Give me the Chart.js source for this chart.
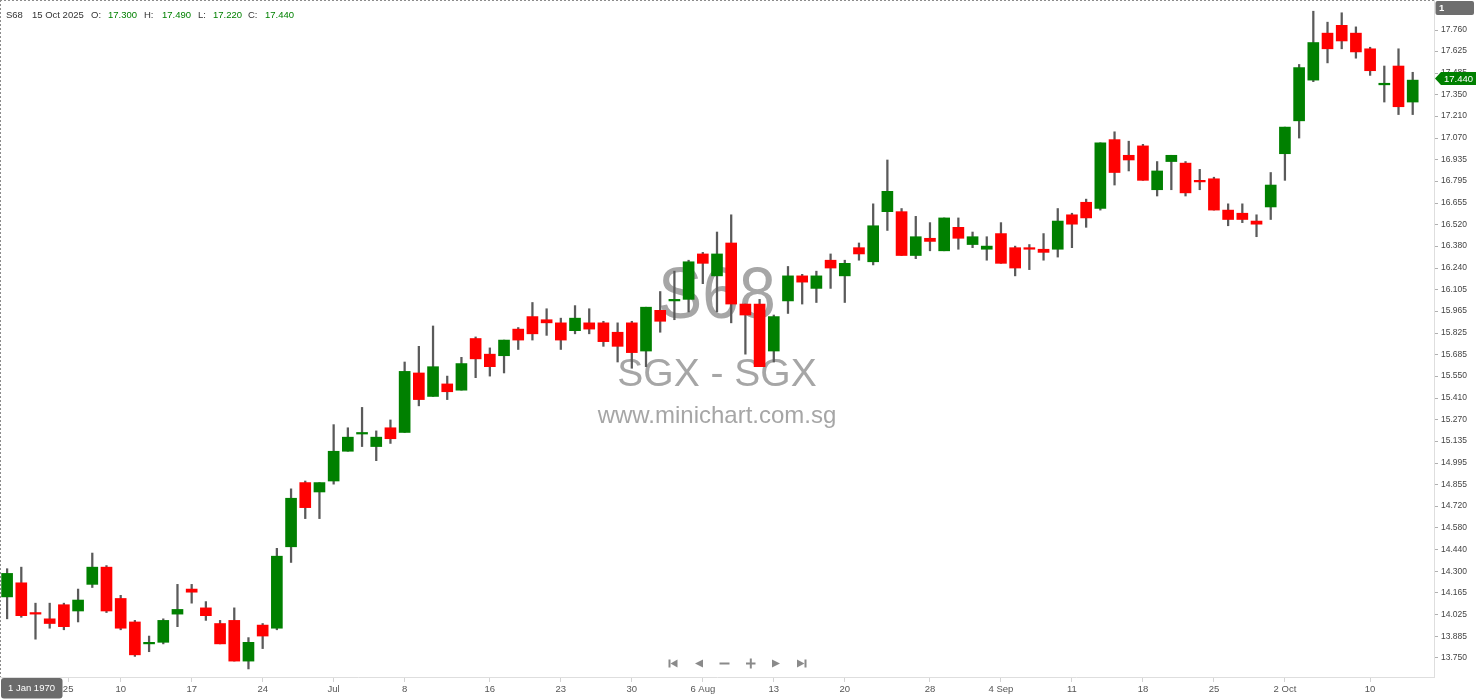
<!DOCTYPE html>
<html>
<head>
<meta charset="utf-8">
<title>S68 - SGX</title>
<script src="https://cdn.jsdelivr.net/npm/chart.js@4.4.1/dist/chart.umd.min.js"></script>
<style>
  html, body { margin: 0; padding: 0; background: #fff; }
  #wrap { width: 1480px; height: 699px; }
</style>
</head>
<body>
<div id="wrap"><canvas id="chart" width="1480" height="699"></canvas></div>
<script>
const symbol = 'S68';
const exchange = 'SGX - SGX';
const site = 'www.minichart.com.sg';

// trading days, 29 May -> 15 Oct 2025
const dates = [
  '29 May', '30 May', '2 Jun', '3 Jun', '4 Jun', '5 Jun', '6 Jun', '9 Jun', '10 Jun', '11 Jun',
  '12 Jun', '13 Jun', '16 Jun', '17 Jun', '18 Jun', '19 Jun', '20 Jun', '23 Jun', '24 Jun', '25 Jun',
  '26 Jun', '27 Jun', '30 Jun', '1 Jul', '2 Jul', '3 Jul', '4 Jul', '7 Jul', '8 Jul', '9 Jul',
  '10 Jul', '11 Jul', '14 Jul', '15 Jul', '16 Jul', '17 Jul', '18 Jul', '21 Jul', '22 Jul', '23 Jul',
  '24 Jul', '25 Jul', '28 Jul', '29 Jul', '30 Jul', '31 Jul', '1 Aug', '4 Aug', '5 Aug', '6 Aug',
  '7 Aug', '8 Aug', '11 Aug', '12 Aug', '13 Aug', '14 Aug', '15 Aug', '18 Aug', '19 Aug', '20 Aug',
  '21 Aug', '22 Aug', '25 Aug', '26 Aug', '27 Aug', '28 Aug', '29 Aug', '1 Sep', '2 Sep', '3 Sep',
  '4 Sep', '5 Sep', '8 Sep', '9 Sep', '10 Sep', '11 Sep', '12 Sep', '15 Sep', '16 Sep', '17 Sep',
  '18 Sep', '19 Sep', '22 Sep', '23 Sep', '24 Sep', '25 Sep', '26 Sep', '29 Sep', '30 Sep', '1 Oct',
  '2 Oct', '3 Oct', '6 Oct', '7 Oct', '8 Oct', '9 Oct', '10 Oct', '13 Oct', '14 Oct', '15 Oct'
];

const opens = [
  14.14, 14.23, 14.04, 14.00, 14.09, 14.05, 14.22, 14.33, 14.13, 13.98,
  13.84, 13.85, 14.03, 14.19, 14.07, 13.97, 13.99, 13.73, 13.96, 13.94,
  14.46, 14.87, 14.81, 14.88, 15.07, 15.18, 15.10, 15.22, 15.19, 15.57,
  15.42, 15.50, 15.46, 15.79, 15.69, 15.68, 15.85, 15.93, 15.91, 15.89,
  15.84, 15.89, 15.89, 15.83, 15.89, 15.71, 15.97, 16.03, 16.04, 16.33,
  16.19, 16.40, 16.01, 16.01, 15.71, 16.03, 16.19, 16.11, 16.29, 16.19,
  16.37, 16.28, 16.60, 16.60, 16.32, 16.43, 16.35, 16.50, 16.39, 16.36,
  16.46, 16.37, 16.37, 16.36, 16.36, 16.58, 16.66, 16.62, 17.06, 16.96,
  17.02, 16.74, 16.92, 16.91, 16.80, 16.81, 16.61, 16.59, 16.54, 16.63,
  16.97, 17.18, 17.44, 17.74, 17.79, 17.74, 17.64, 17.41, 17.53, 17.30
];
const highs = [
  14.32, 14.33, 14.10, 14.10, 14.10, 14.19, 14.42, 14.34, 14.15, 13.99,
  13.89, 14.00, 14.22, 14.22, 14.11, 13.99, 14.07, 13.88, 13.97, 14.45,
  14.83, 14.88, 14.87, 15.24, 15.22, 15.35, 15.20, 15.27, 15.64, 15.74,
  15.87, 15.55, 15.67, 15.80, 15.73, 15.78, 15.86, 16.02, 15.98, 15.92,
  16.00, 15.98, 15.90, 15.89, 15.90, 15.99, 16.09, 16.22, 16.29, 16.34,
  16.47, 16.58, 16.01, 16.04, 15.94, 16.25, 16.20, 16.22, 16.33, 16.29,
  16.40, 16.65, 16.93, 16.62, 16.57, 16.53, 16.56, 16.56, 16.47, 16.44,
  16.53, 16.38, 16.39, 16.46, 16.62, 16.59, 16.68, 17.04, 17.11, 17.05,
  17.03, 16.92, 16.96, 16.92, 16.87, 16.82, 16.65, 16.65, 16.58, 16.85,
  17.14, 17.54, 17.88, 17.81, 17.87, 17.78, 17.65, 17.53, 17.64, 17.49
];
const lows = [
  14.00, 14.01, 13.87, 13.94, 13.93, 13.98, 14.20, 14.04, 13.93, 13.76,
  13.79, 13.84, 13.95, 14.10, 13.99, 13.84, 13.73, 13.68, 13.81, 13.93,
  14.36, 14.64, 14.64, 14.86, 15.07, 15.10, 15.01, 15.12, 15.19, 15.36,
  15.42, 15.40, 15.46, 15.54, 15.55, 15.57, 15.72, 15.78, 15.81, 15.72,
  15.82, 15.82, 15.74, 15.64, 15.60, 15.61, 15.83, 15.91, 15.96, 16.14,
  15.96, 15.89, 15.69, 15.61, 15.64, 15.95, 16.01, 16.02, 16.11, 16.02,
  16.29, 16.26, 16.48, 16.32, 16.30, 16.35, 16.35, 16.36, 16.37, 16.29,
  16.27, 16.19, 16.23, 16.29, 16.31, 16.37, 16.50, 16.61, 16.77, 16.86,
  16.80, 16.70, 16.74, 16.70, 16.74, 16.61, 16.51, 16.53, 16.44, 16.55,
  16.80, 17.07, 17.43, 17.55, 17.64, 17.58, 17.47, 17.30, 17.22, 17.22
];
const closes = [
  14.29, 14.02, 14.03, 13.97, 13.95, 14.12, 14.33, 14.05, 13.94, 13.77,
  13.85, 13.99, 14.06, 14.17, 14.02, 13.84, 13.73, 13.85, 13.89, 14.40,
  14.77, 14.71, 14.87, 15.07, 15.16, 15.19, 15.16, 15.15, 15.58, 15.40,
  15.61, 15.45, 15.63, 15.66, 15.61, 15.78, 15.78, 15.82, 15.89, 15.78,
  15.92, 15.85, 15.77, 15.74, 15.70, 15.99, 15.90, 16.04, 16.28, 16.27,
  16.33, 16.01, 15.94, 15.61, 15.93, 16.19, 16.15, 16.19, 16.24, 16.27,
  16.33, 16.51, 16.73, 16.32, 16.44, 16.41, 16.56, 16.43, 16.44, 16.38,
  16.27, 16.24, 16.36, 16.34, 16.54, 16.52, 16.56, 17.04, 16.85, 16.93,
  16.80, 16.86, 16.96, 16.72, 16.79, 16.61, 16.55, 16.55, 16.52, 16.77,
  17.14, 17.52, 17.68, 17.64, 17.69, 17.62, 17.50, 17.42, 17.27, 17.44
];

// x axis tick labels (position on the bar index axis)
const xTickIndex = [4.3, 8, 13, 18, 23, 28, 34, 39, 44, 49, 54, 59, 65, 70, 75, 80, 85, 90, 96];
const xTickText = ['25', '10', '17', '24', 'Jul', '8', '16', '23', '30', '6 Aug', '13', '20', '28', '4 Sep', '11', '18', '25', '2 Oct', '10'];

// price axis tick labels
const yTicks = [
  17.760, 17.625, 17.485, 17.350, 17.210, 17.070, 16.935, 16.795, 16.655, 16.520,
  16.380, 16.240, 16.105, 15.965, 15.825, 15.685, 15.550, 15.410, 15.270, 15.135,
  14.995, 14.855, 14.720, 14.580, 14.440, 14.300, 14.165, 14.025, 13.885, 13.750
];

const FONT = '"Liberation Sans", Arial, sans-serif';
const UP = '#008000';
const DOWN = '#ff0000';
const WICK = '#5a5a5a';

const candleColors = opens.map((o, i) => (closes[i] >= o ? UP : DOWN));
const wickData = dates.map((d, i) => ({ x: i, y: [lows[i], highs[i]] }));
const bodyData = dates.map((d, i) => ({ x: i, y: [opens[i], closes[i]] }));

function roundRect(ctx, x, y, w, h, r) {
  ctx.beginPath();
  ctx.moveTo(x + r, y);
  ctx.lineTo(x + w - r, y);
  ctx.quadraticCurveTo(x + w, y, x + w, y + r);
  ctx.lineTo(x + w, y + h - r);
  ctx.quadraticCurveTo(x + w, y + h, x + w - r, y + h);
  ctx.lineTo(x + r, y + h);
  ctx.quadraticCurveTo(x, y + h, x, y + h - r);
  ctx.lineTo(x, y + r);
  ctx.quadraticCurveTo(x, y, x + r, y);
  ctx.closePath();
}

// watermark behind the candles
const watermark = {
  id: 'watermark',
  beforeDatasetsDraw(chart) {
    const ctx = chart.ctx;
    ctx.save();
    ctx.fillStyle = '#a6a6a6';
    ctx.textAlign = 'center';
    ctx.textBaseline = 'alphabetic';
    ctx.save();
    ctx.translate(717, 318);
    ctx.scale(0.92, 1);
    ctx.font = '72px ' + FONT;
    ctx.fillText(symbol, 0, 0);
    ctx.restore();
    ctx.font = '39px ' + FONT;
    ctx.fillText(exchange, 717, 386);
    ctx.font = '24px ' + FONT;
    ctx.fillText(site, 717, 423);
    ctx.restore();
  }
};

// header, boxes, price marker, nav buttons, dashed frame
const overlay = {
  id: 'overlay',
  afterDraw(chart) {
    const ctx = chart.ctx;
    const area = chart.chartArea;
    const last = dates.length - 1;
    ctx.save();

    // dashed frame
    ctx.strokeStyle = '#8c8c8c';
    ctx.lineWidth = 1;
    ctx.setLineDash([2, 2]);
    ctx.beginPath();
    ctx.moveTo(0, 0.5);
    ctx.lineTo(area.right, 0.5);
    ctx.moveTo(0.5, 0);
    ctx.lineTo(0.5, area.bottom);
    ctx.stroke();
    ctx.setLineDash([]);

    // header
    const lastColor = closes[last] >= opens[last] ? UP : DOWN;
    const parts = [
      [symbol, 6, '#333'],
      [dates[last] + ' 2025', 32, '#333'],
      ['O:', 91, '#333'], [opens[last].toFixed(3), 108, lastColor],
      ['H:', 144, '#333'], [highs[last].toFixed(3), 162, lastColor],
      ['L:', 198, '#333'], [lows[last].toFixed(3), 213, lastColor],
      ['C:', 248, '#333'], [closes[last].toFixed(3), 265, lastColor]
    ];
    ctx.font = '9.5px ' + FONT;
    ctx.textAlign = 'left';
    ctx.textBaseline = 'middle';
    parts.forEach(p => {
      ctx.fillStyle = p[2];
      ctx.fillText(p[0], p[1], 15.5);
    });

    // top right box
    ctx.fillStyle = '#6e6e6e';
    roundRect(ctx, 1435.5, 1, 38.5, 14, 2);
    ctx.fill();
    ctx.fillStyle = '#fff';
    ctx.font = 'bold 9.5px ' + FONT;
    ctx.fillText('1', 1439, 8.5);

    // bottom left date box
    ctx.fillStyle = '#6b6b6b';
    roundRect(ctx, 1, 678, 61.5, 20.5, 3);
    ctx.fill();
    ctx.fillStyle = '#fff';
    ctx.font = '9.5px ' + FONT;
    ctx.textAlign = 'center';
    ctx.fillText('1 Jan 1970', 31.5, 688.5);

    // last price marker
    const py = chart.scales.y.getPixelForValue(closes[last]) - 1.5;
    ctx.fillStyle = lastColor;
    ctx.beginPath();
    ctx.moveTo(1435, py);
    ctx.lineTo(1441, py - 6.5);
    ctx.lineTo(1476, py - 6.5);
    ctx.lineTo(1476, py + 6.5);
    ctx.lineTo(1441, py + 6.5);
    ctx.closePath();
    ctx.fill();
    ctx.fillStyle = '#fff';
    ctx.textAlign = 'left';
    ctx.fillText(closes[last].toFixed(3), 1444, py + 0.5);

    // navigation buttons
    const cy = 663.5;
    ctx.fillStyle = '#8a8a8a';
    ctx.fillRect(668.5, cy - 4, 2, 8);
    ctx.beginPath();
    ctx.moveTo(670.5, cy); ctx.lineTo(677.5, cy - 4); ctx.lineTo(677.5, cy + 4); ctx.closePath();
    ctx.fill();
    ctx.beginPath();
    ctx.moveTo(695, cy); ctx.lineTo(703, cy - 4); ctx.lineTo(703, cy + 4); ctx.closePath();
    ctx.fill();
    ctx.fillRect(719.5, cy - 1, 10, 2);
    ctx.fillRect(746, cy - 1, 9.5, 2);
    ctx.fillRect(749.8, cy - 5, 2, 10);
    ctx.beginPath();
    ctx.moveTo(780, cy); ctx.lineTo(772, cy - 4); ctx.lineTo(772, cy + 4); ctx.closePath();
    ctx.fill();
    ctx.beginPath();
    ctx.moveTo(804.5, cy); ctx.lineTo(797, cy - 4); ctx.lineTo(797, cy + 4); ctx.closePath();
    ctx.fill();
    ctx.fillRect(804.5, cy - 4, 2, 8);

    ctx.restore();
  }
};

new Chart(document.getElementById('chart'), {
  type: 'bar',
  data: {
    datasets: [
      {
        label: 'body',
        data: bodyData,
        backgroundColor: candleColors,
        barThickness: 11,
        minBarLength: 1.5,
        borderWidth: 0,
        grouped: false,
        order: 0
      },
      {
        label: 'wick',
        data: wickData,
        backgroundColor: WICK,
        barThickness: 1.6,
        borderWidth: 0,
        grouped: false,
        order: 1
      }
    ]
  },
  options: {
    responsive: false,
    animation: false,
    events: [],
    layout: { padding: 0 },
    plugins: {
      legend: { display: false },
      tooltip: { enabled: false }
    },
    scales: {
      x: {
        type: 'linear',
        min: -0.5,
        max: dates.length + 0.5,
        offset: false,
        grid: { drawOnChartArea: false, offset: false, tickLength: 5, color: '#d4d4d4' },
        border: { color: '#dedede' },
        ticks: {
          autoSkip: false,
          maxRotation: 0,
          padding: 2,
          color: '#555',
          font: { family: FONT, size: 9.5 },
          callback: v => xTickText[xTickIndex.indexOf(v)]
        },
        afterBuildTicks: scale => {
          scale.ticks = xTickIndex.map(v => ({ value: v }));
        },
        afterFit: scale => {
          scale.height = 22;
          scale.paddingLeft = 0;
          scale.paddingRight = 0;
        }
      },
      y: {
        type: 'linear',
        position: 'right',
        min: 13.6285,
        max: 17.9516,
        grid: { drawOnChartArea: false, tickLength: 4, color: '#b0b0b0' },
        border: { color: '#dedede' },
        ticks: {
          padding: 3,
          color: '#444',
          font: { family: FONT, size: 8.5 },
          callback: v => v.toFixed(3)
        },
        afterBuildTicks: scale => {
          scale.ticks = yTicks.map(v => ({ value: v }));
        },
        afterFit: scale => {
          scale.width = 46;
          scale.paddingTop = 0;
          scale.paddingBottom = 0;
        }
      }
    }
  },
  plugins: [watermark, overlay]
});
</script>
</body>
</html>
